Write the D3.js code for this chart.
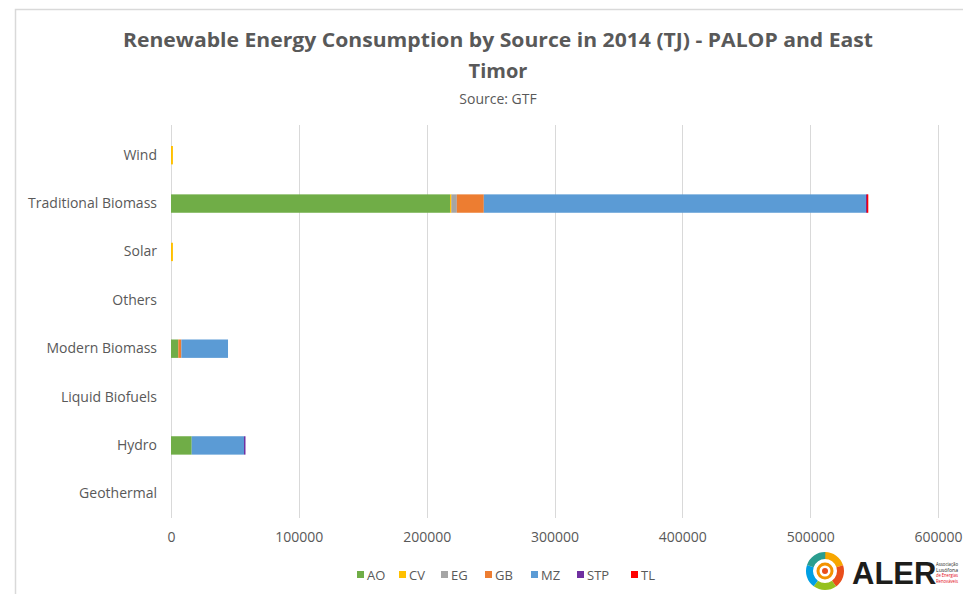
<!DOCTYPE html>
<html>
<head>
<meta charset="utf-8">
<script src="https://cdn.jsdelivr.net/npm/d3@7"></script>
<style>
  body { margin: 0; background: #fff; }
  text { font-family: 'Open Sans', 'Liberation Sans', sans-serif; }
</style>
</head>
<body>
<div id="chart"></div>
<script>
// categories, top to bottom
const sources = ['Wind', 'Traditional Biomass', 'Solar', 'Others', 'Modern Biomass', 'Liquid Biofuels', 'Hydro', 'Geothermal']
const countries = ['AO', 'CV', 'EG', 'GB', 'MZ', 'STP', 'TL']
const countryColors = ['#70ad47', '#ffc000', '#a5a5a5', '#ed7d31', '#5b9bd5', '#7030a0', '#ff0000']
// values in TJ per country, in the same order as sources
const AO = [0, 218300, 0, 0, 5700, 0, 16200, 0]
const CV = [1500, 1000, 1500, 0, 0, 0, 0, 0]
const EG = [0, 4300, 0, 0, 0, 0, 0, 0]
const GB = [0, 21100, 0, 0, 2400, 0, 0, 0]
const MZ = [0, 298900, 0, 0, 36500, 0, 40900, 0]
const STP = [0, 700, 0, 0, 0, 0, 700, 0]
const TL = [0, 800, 0, 0, 0, 0, 0, 0]
const xTicks = [0, 100000, 200000, 300000, 400000, 500000, 600000]

const seriesValues = { AO, CV, EG, GB, MZ, STP, TL }
const rows = sources.map((s, i) => {
  const row = { source: s }
  countries.forEach(c => { row[c] = seriesValues[c][i] })
  return row
})

const width = 963
const height = 594
const margin = { top: 131, right: 25, bottom: 76, left: 171 }
const textColor = '#595959'
const colors = d3.scaleOrdinal().domain(countries).range(countryColors)

const svg = d3.select('#chart')
  .append('svg')
  .attr('width', width)
  .attr('height', height)

// chart frame
svg.append('path')
  .attr('d', `M15.5,${height} V9.5 H${width}`)
  .attr('fill', 'none')
  .attr('stroke', '#d9d9d9')
  .attr('stroke-width', 1.5)

svg.append('text')
  .attr('x', 498)
  .attr('y', 47)
  .attr('text-anchor', 'middle')
  .attr('font-size', 20)
  .attr('font-weight', 'bold')
  .attr('fill', textColor)
  .attr('textLength', 750)
  .attr('lengthAdjust', 'spacingAndGlyphs')
  .text('Renewable Energy Consumption by Source in 2014 (TJ) - PALOP and East')
svg.append('text')
  .attr('x', 498)
  .attr('y', 78)
  .attr('text-anchor', 'middle')
  .attr('font-size', 20)
  .attr('font-weight', 'bold')
  .attr('fill', textColor)
  .text('Timor')
svg.append('text')
  .attr('x', 498)
  .attr('y', 104)
  .attr('text-anchor', 'middle')
  .attr('font-size', 14)
  .attr('fill', textColor)
  .text('Source: GTF')

const xScale = d3.scaleLinear()
  .domain([0, 600000])
  .range([margin.left, 938])
const yScale = d3.scaleBand()
  .domain(sources)
  .range([margin.top, height - margin.bottom])
  .paddingInner(0.62)
  .paddingOuter(0.31)

// gridlines
svg.append('g')
  .selectAll('line')
  .data(xTicks)
  .join('line')
  .attr('x1', d => Math.round(xScale(d)) + 0.5)
  .attr('x2', d => Math.round(xScale(d)) + 0.5)
  .attr('y1', margin.top - 6)
  .attr('y2', height - margin.bottom)
  .attr('stroke', '#d9d9d9')
  .attr('stroke-width', 1)

const axisX = d3.axisBottom(xScale).tickValues(xTicks).tickFormat(d3.format('d')).tickSize(0).tickPadding(14)
const gx = svg.append('g')
  .attr('transform', `translate(0, ${height - margin.bottom})`)
  .call(axisX)
gx.select('.domain').remove()
gx.selectAll('text')
  .attr('font-size', 14)
  .attr('fill', textColor)
  .style('font-family', "'Open Sans', 'Liberation Sans', sans-serif")

const axisY = d3.axisLeft(yScale).tickSize(0).tickPadding(14)
const gy = svg.append('g')
  .attr('transform', `translate(${margin.left}, 0)`)
  .call(axisY)
gy.select('.domain').remove()
gy.selectAll('text')
  .attr('font-size', 14)
  .attr('fill', textColor)
  .style('font-family', "'Open Sans', 'Liberation Sans', sans-serif")

const stacked = d3.stack().keys(countries)(rows)
svg.append('g')
  .selectAll('g')
  .data(stacked)
  .join('g')
  .attr('fill', d => colors(d.key))
  .selectAll('rect')
  .data(d => d.filter(v => v[1] > v[0]))
  .join('rect')
  .attr('x', d => xScale(d[0]))
  .attr('y', d => yScale(d.data.source))
  .attr('width', d => Math.max(1.5, xScale(d[1]) - xScale(d[0])))
  .attr('height', yScale.bandwidth())

// legend
const legendX = [357, 399, 441, 485, 531, 577, 631]
const legend = svg.append('g')
  .selectAll('g')
  .data(countries)
  .join('g')
  .attr('transform', (d, i) => `translate(${legendX[i]}, 575)`)
legend.append('rect')
  .attr('x', 0)
  .attr('y', -4)
  .attr('width', 7)
  .attr('height', 7)
  .attr('fill', d => colors(d))
legend.append('text')
  .attr('x', 10)
  .attr('y', 4.5)
  .attr('font-size', 13)
  .attr('fill', textColor)
  .text(d => d)

// ALER logo
const logo = svg.append('g').attr('transform', 'translate(825, 571)')
const arcColors = ['#f7a600', '#e94e1b', '#95c11f', '#009fe3', '#2a9d8f']
arcColors.forEach((c, i) => {
  logo.append('path')
    .attr('d', d3.arc()({ innerRadius: 12, outerRadius: 19, startAngle: i * 1.26, endAngle: (i + 1) * 1.26 }))
    .attr('fill', c)
})
logo.append('circle').attr('r', 9).attr('fill', '#fff')
logo.append('circle').attr('r', 7).attr('fill', 'none').attr('stroke', '#f39200').attr('stroke-width', 3)
logo.append('circle').attr('r', 3).attr('fill', '#e94e1b')
svg.append('text')
  .attr('x', 852)
  .attr('y', 584)
  .attr('font-size', 31)
  .attr('font-weight', 'bold')
  .attr('fill', '#1d1d1b')
  .style('font-family', "'Liberation Sans', sans-serif")
  .text('ALER')
const smallLines = [['#1d1d1b', 'Associação'], ['#1d1d1b', 'Lusófona'], ['#e30613', 'de Energias'], ['#e30613', 'Renováveis']]
smallLines.forEach((l, i) => {
  svg.append('text')
    .attr('x', 936)
    .attr('y', 566 + i * 5.5)
    .attr('font-size', 5)
    .attr('fill', l[0])
    .attr('textLength', 22)
    .attr('lengthAdjust', 'spacingAndGlyphs')
    .text(l[1])
})
</script>
</body>
</html>
